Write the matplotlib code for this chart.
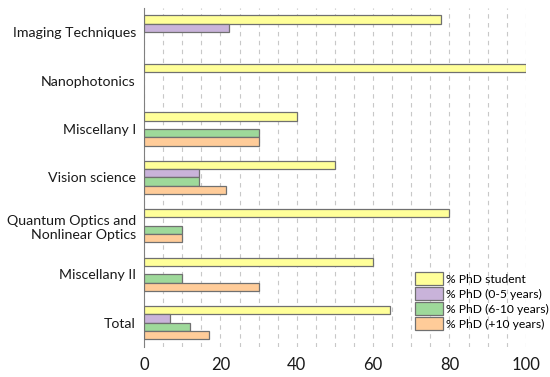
import numpy as np
import matplotlib.pyplot as plt

plt.rcParams['font.family'] = ['Lato', 'DejaVu Sans']

categories = ["Imaging Techniques", "Nanophotonics", "Miscellany I", "Vision science",
              "Quantum Optics and\nNonlinear Optics", "Miscellany II", "Total"]
series = ["% PhD student", "% PhD (0-5 years)", "% PhD (6-10 years)", "% PhD (+10 years)"]
phd_student = [77.8, 100, 40, 50, 80, 60, 64.4]
phd_0_5 = [22.2, 0, 0, 14.3, 0, 0, 6.8]
phd_6_10 = [0, 0, 30, 14.3, 10, 10, 11.9]
phd_10_plus = [0, 0, 30, 21.4, 10, 30, 16.9]
values = [phd_student, phd_0_5, phd_6_10, phd_10_plus]
colors = ["#FFFF99", "#C9B3DA", "#9ED99A", "#FFCC99"]

fig = plt.figure(figsize=(5.5, 3.77), dpi=100)
ax = fig.add_axes([0.262, 0.080, 0.694, 0.899])

y = np.arange(len(categories))
h = 0.172
for i, (vals, c, name) in enumerate(zip(values, colors, series)):
    vals = np.array(vals)
    pos = y - 2 * h + h / 2 + i * h
    mask = vals > 0
    ax.barh(pos[mask], vals[mask], height=h, color=c, edgecolor="#707070",
            linewidth=0.9, label=name, zorder=3)

ax.set_xlim(0, 100)
ax.set_ylim(6.5, -0.5)
ax.set_yticks(y)
ax.set_yticklabels(categories, fontsize=10.2, color="#1a1a1a")
ax.set_xticks(np.arange(0, 101, 20))
ax.tick_params(axis="x", labelsize=12, length=0, pad=7, colors="#1a1a1a")
ax.tick_params(axis="y", length=0, pad=6)
ax.set_xticks(np.arange(5, 101, 5), minor=True)
ax.tick_params(axis="x", which="minor", length=0)
ax.grid(axis="x", which="both", linestyle=(0, (4, 4)), color="#c8c8c8", linewidth=0.8, zorder=0)
for s in ["top", "right", "bottom"]:
    ax.spines[s].set_visible(False)
ax.spines["left"].set_color("#808080")

ax.legend(loc="upper left", bbox_to_anchor=(415 / 550, 1 - 272 / 377),
          bbox_transform=fig.transFigure, frameon=False, fontsize=8.7,
          borderaxespad=0, borderpad=0, handlelength=2.3, handleheight=1.3,
          handletextpad=0.25, labelspacing=0.15)

fig.savefig("out.png", dpi=100)
